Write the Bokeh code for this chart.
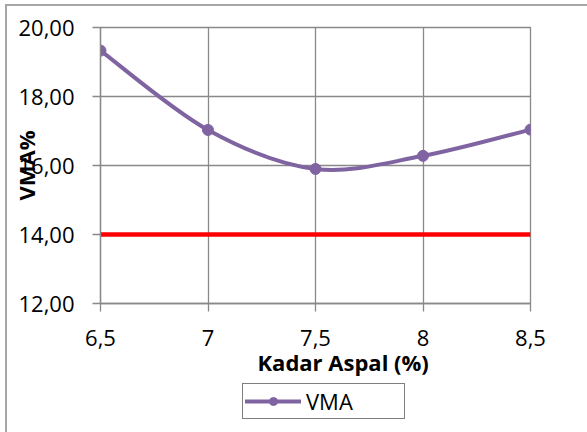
from bokeh.plotting import figure
from bokeh.layouts import column
from bokeh.models import Range1d, FixedTicker, Legend, LegendItem, Title, CustomJSTickFormatter
from bokeh.embed import file_html
from bokeh.resources import INLINE

# Data
kadar_aspal = [6.5, 7.0, 7.5, 8.0, 8.5]
vma = [19.33, 17.03, 15.90, 16.28, 17.04]
batas_vma = [14.0, 14.0, 14.0, 14.0, 14.0]
x_tick_labels = ["6,5", "7", "7,5", "8", "8,5"]
y_ticks = [12, 14, 16, 18, 20]
y_tick_labels = ["12,00", "14,00", "16,00", "18,00", "20,00"]
series_name = "VMA"
x_title = "Kadar Aspal (%)"
y_title = "VMA%"

PURPLE = "#8064A2"
GRID = "#898989"
FONT = "Open Sans"

LOOKUP = """
const i = tvals.findIndex(t => Math.abs(t - tick) < 1e-9);
return i >= 0 ? tlabels[i] : String(tick);
"""

p = figure(frame_width=430, frame_height=276, output_backend="svg", toolbar_location=None,
           x_range=Range1d(6.5, 8.5), y_range=Range1d(12, 20),
           min_border_left=93, min_border_right=57, min_border_top=21, min_border_bottom=78)
p.background_fill_color = "white"
p.border_fill_color = "white"
p.outline_line_color = GRID
p.outline_line_width = 1.3

# axes
p.xaxis.ticker = FixedTicker(ticks=kadar_aspal)
p.xaxis.formatter = CustomJSTickFormatter(args=dict(tvals=kadar_aspal, tlabels=x_tick_labels), code=LOOKUP)
p.yaxis.ticker = FixedTicker(ticks=y_ticks)
p.yaxis.formatter = CustomJSTickFormatter(args=dict(tvals=y_ticks, tlabels=y_tick_labels), code=LOOKUP)
for ax in (p.xaxis[0], p.yaxis[0]):
    ax.axis_line_color = GRID
    ax.axis_line_width = 1.3
    ax.major_tick_line_color = GRID
    ax.major_tick_line_width = 1.3
    ax.major_tick_out = 8
    ax.major_tick_in = 0
    ax.minor_tick_line_color = None
    ax.major_label_text_font = FONT
    ax.major_label_text_font_size = "22px"
    ax.major_label_text_color = "black"
p.xaxis.major_label_standoff = 18
p.xaxis.axis_label_standoff = 0
p.yaxis.major_label_standoff = 18

p.yaxis.axis_label = y_title
p.yaxis.axis_label_text_font = FONT
p.yaxis.axis_label_text_font_size = "22px"
p.yaxis.axis_label_text_font_style = "bold"
p.yaxis.axis_label_text_color = "black"
p.yaxis.axis_label_standoff = -26

p.add_layout(Title(text=x_title, align="left", offset=157, text_font=FONT,
                   text_font_size="22px", text_font_style="bold", text_color="black",
                   standoff=-7), "below")

for g in (p.xgrid[0], p.ygrid[0]):
    g.grid_line_color = GRID
    g.grid_line_width = 1.3
p.xgrid.ticker = FixedTicker(ticks=kadar_aspal)
p.ygrid.ticker = FixedTicker(ticks=y_ticks)

# limit line
p.line(kadar_aspal, batas_vma, line_color="#FF0000", line_width=4.5)

# smoothed curve (Excel-like bezier smoothing)
n = len(kadar_aspal)
bz = {k: [] for k in ("x0", "y0", "x1", "y1", "cx0", "cy0", "cx1", "cy1")}
for i in range(n - 1):
    ip = max(i - 1, 0)
    inn = min(i + 2, n - 1)
    bz["x0"].append(kadar_aspal[i]); bz["y0"].append(vma[i])
    bz["x1"].append(kadar_aspal[i + 1]); bz["y1"].append(vma[i + 1])
    bz["cx0"].append(kadar_aspal[i] + (kadar_aspal[i + 1] - kadar_aspal[ip]) / 6)
    bz["cy0"].append(vma[i] + (vma[i + 1] - vma[ip]) / 6)
    bz["cx1"].append(kadar_aspal[i + 1] - (kadar_aspal[inn] - kadar_aspal[i]) / 6)
    bz["cy1"].append(vma[i + 1] - (vma[inn] - vma[i]) / 6)
curve_style = dict(line_color=PURPLE, line_width=4, line_cap="round")
marker_style = dict(size=11, fill_color=PURPLE, line_color=PURPLE)
p.bezier(**bz, **curve_style)
p.scatter(kadar_aspal, vma, **marker_style)

# legend strip below the chart (its renderers draw the same series, outside its view)
leg = figure(width=580, height=51, output_backend="svg", toolbar_location=None,
             x_range=Range1d(0, 1), y_range=Range1d(0, 1), min_border=0)
leg.axis.visible = False
leg.grid.visible = False
leg.outline_line_color = None
leg.background_fill_color = "white"
leg.border_fill_color = "white"
lc = leg.bezier(**bz, **curve_style)
lp = leg.scatter(kadar_aspal, vma, **marker_style)
legend = Legend(items=[LegendItem(label=series_name, renderers=[lc, lp])],
                location=(142, 13), orientation="horizontal",
                label_text_font=FONT, label_text_font_size="22px", label_text_color="black",
                border_line_color="black", border_line_width=1.5,
                background_fill_color="white", background_fill_alpha=1,
                padding=2, margin=0, glyph_width=56, glyph_height=20,
                label_standoff=5, label_width=96, label_height=20, spacing=0)
leg.add_layout(legend)

layout = column(p, leg, spacing=0, margin=(4, 0, 0, 5),
                styles={"border-left": "2px solid #a6a6a6", "border-top": "2px solid #a6a6a6"})
open("out.html", "w").write(file_html(layout, INLINE))
